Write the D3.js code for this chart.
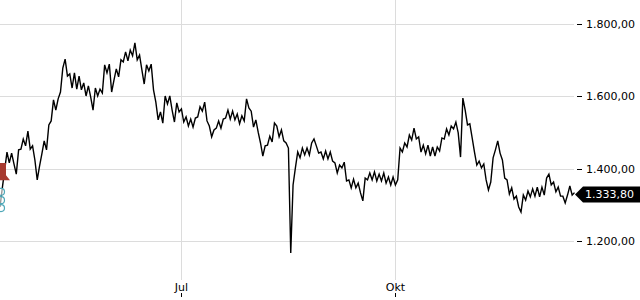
<!DOCTYPE html>
<html>
<head>
<meta charset="utf-8">
<script src="https://cdn.jsdelivr.net/npm/d3@7"></script>
<style>
  body { margin: 0; background: #fff; }
  text { font-family: "DejaVu Sans", sans-serif; }
</style>
</head>
<body>
<div id="chart"></div>
<script>
// one value per calendar day, starting 14 April
var startDate = new Date(Date.UTC(2022, 3, 14));
var prices = [
  1294, 1347, 1396, 1446, 1416, 1443, 1413, 1385, 1452, 1454,
  1482, 1463, 1504, 1454, 1463, 1424, 1369, 1407, 1441, 1477,
  1452, 1521, 1532, 1590, 1562, 1593, 1612, 1678, 1703, 1656,
  1662, 1623, 1665, 1620, 1656, 1618, 1637, 1601, 1629, 1598,
  1562, 1623, 1601, 1620, 1609, 1687, 1665, 1689, 1612, 1645,
  1676, 1654, 1701, 1695, 1723, 1698, 1728, 1712, 1748, 1701,
  1714, 1673, 1634, 1687, 1670, 1689, 1618, 1584, 1535, 1557,
  1526, 1601, 1579, 1601, 1562, 1529, 1582, 1557, 1565, 1529,
  1543, 1518, 1537, 1515, 1540, 1543, 1571, 1559, 1584, 1532,
  1518, 1488, 1507, 1512, 1532, 1512, 1537, 1540, 1562, 1537,
  1559, 1535, 1551, 1524, 1546, 1532, 1593, 1568, 1559, 1515,
  1535, 1501, 1471, 1435, 1463, 1465, 1490, 1474, 1526, 1518,
  1488, 1507, 1477, 1471, 1457, 1167, 1355, 1402, 1446, 1430,
  1457, 1438, 1457, 1438, 1471, 1482, 1463, 1443, 1446, 1427,
  1449, 1427, 1446, 1421, 1416, 1388, 1410, 1402, 1418, 1366,
  1369, 1347, 1371, 1347, 1360, 1333, 1311, 1374, 1369, 1388,
  1369, 1391, 1366, 1385, 1366, 1388, 1360, 1377, 1355, 1377,
  1355, 1369, 1457, 1446, 1471, 1460, 1493, 1479, 1512, 1482,
  1488, 1446, 1465, 1441, 1465, 1435, 1460, 1435, 1460, 1449,
  1485, 1482, 1510, 1493, 1518, 1510, 1529, 1499, 1432, 1595,
  1562, 1521, 1524, 1485, 1446, 1410, 1421, 1402, 1413, 1369,
  1341, 1363, 1430, 1452, 1477, 1443, 1424, 1374, 1369, 1330,
  1347, 1316, 1324, 1294, 1280, 1327, 1313, 1338, 1322, 1344,
  1324, 1349, 1322, 1349, 1327, 1374, 1385, 1355, 1363, 1336,
  1349, 1324, 1324, 1305, 1327, 1352, 1327, 1333.8
];
var yTicks = [1200, 1400, 1600, 1800];
var monthNames = ["Jan", "Feb", "Mär", "Apr", "Mai", "Jun", "Jul", "Aug", "Sep", "Okt", "Nov", "Dez"];
var lastPrice = 1333.80;
// event markers at the left edge
var flagValues = [1416, 1368];
var circleValues = [1336, 1313, 1291];

var width = 640;
var height = 300;

var de = d3.formatLocale({decimal: ",", thousands: ".", grouping: [3], currency: ["", " €"]});
var fmt = de.format(",.2f");

var data = prices.map(function(p, i) {
  return {date: d3.utcDay.offset(startDate, i), value: p};
});

var svg = d3.select("#chart")
  .append("svg")
  .attr("width", width)
  .attr("height", height);

var x = d3.scaleUtc()
  .domain([startDate, data[data.length - 1].date])
  .range([0, 574.5]);

var y = d3.scaleLinear()
  .domain([1200, 1800])
  .range([241, 24]);

var xTicks = x.ticks(d3.utcMonth.every(3));

// grid
svg.append("g")
  .selectAll("line")
  .data(yTicks)
  .enter().append("line")
  .attr("x1", 0)
  .attr("x2", 574)
  .attr("y1", function(d) { return Math.round(y(d)) + 0.5; })
  .attr("y2", function(d) { return Math.round(y(d)) + 0.5; })
  .attr("stroke", "#dcdcdc");

svg.append("g")
  .selectAll("line")
  .data(xTicks)
  .enter().append("line")
  .attr("x1", function(d) { return Math.round(x(d)) + 0.5; })
  .attr("x2", function(d) { return Math.round(x(d)) + 0.5; })
  .attr("y1", 0)
  .attr("y2", 280)
  .attr("stroke", "#dcdcdc");

// y axis on the right
var yAxis = svg.append("g");
yAxis.selectAll("line")
  .data(yTicks)
  .enter().append("line")
  .attr("x1", 577)
  .attr("x2", 582)
  .attr("y1", function(d) { return Math.round(y(d)) + 0.5; })
  .attr("y2", function(d) { return Math.round(y(d)) + 0.5; })
  .attr("stroke", "#000");
yAxis.selectAll("text")
  .data(yTicks)
  .enter().append("text")
  .attr("x", 586)
  .attr("y", function(d) { return y(d); })
  .attr("dy", "0.35em")
  .style("font-size", "11px")
  .attr("fill", "#000")
  .text(function(d) { return fmt(d); });

// x axis labels
var xAxis = svg.append("g");
xAxis.selectAll("text")
  .data(xTicks)
  .enter().append("text")
  .attr("x", function(d) { return x(d); })
  .attr("y", 291)
  .attr("text-anchor", "middle")
  .style("font-size", "11px")
  .attr("fill", "#000")
  .text(function(d) { return monthNames[d.getUTCMonth()]; });
xAxis.selectAll("line")
  .data(xTicks)
  .enter().append("line")
  .attr("x1", function(d) { return Math.round(x(d)) + 0.5; })
  .attr("x2", function(d) { return Math.round(x(d)) + 0.5; })
  .attr("y1", 293)
  .attr("y2", 297)
  .attr("stroke", "#000");

// price line
var line = d3.line()
  .x(function(d) { return x(d.date); })
  .y(function(d) { return y(d.value); });

svg.append("path")
  .datum(data)
  .attr("d", line)
  .attr("fill", "none")
  .attr("stroke", "#000")
  .attr("stroke-width", 1.4)
  .attr("stroke-linejoin", "miter");

// event markers
var x0 = x(startDate);
svg.append("path")
  .attr("d", "M" + (x0 - 2) + "," + y(flagValues[0]) +
    "H" + (x0 + 6) + "V" + (y(flagValues[1]) - 5) +
    "L" + (x0 + 10) + "," + y(flagValues[1]) +
    "H" + (x0 - 2) + "Z")
  .attr("fill", "#a63a30");

svg.append("g")
  .selectAll("circle")
  .data(circleValues)
  .enter().append("circle")
  .attr("cx", x0 + 1)
  .attr("cy", function(d) { return y(d); })
  .attr("r", 3.5)
  .attr("fill", "#fff")
  .attr("fill-opacity", 0.6)
  .attr("stroke", "#4fa8b8")
  .attr("stroke-width", 1.2);

// last value label
var ly = y(lastPrice) + 2;
svg.append("path")
  .attr("d", "M575," + ly + "L583," + (ly - 8) + "H640V" + (ly + 8) + "H583Z")
  .attr("fill", "#000");
svg.append("text")
  .attr("x", 585)
  .attr("y", ly)
  .attr("dy", "0.35em")
  .style("font-size", "11px")
  .attr("fill", "#fff")
  .text(fmt(lastPrice));
</script>
</body>
</html>
